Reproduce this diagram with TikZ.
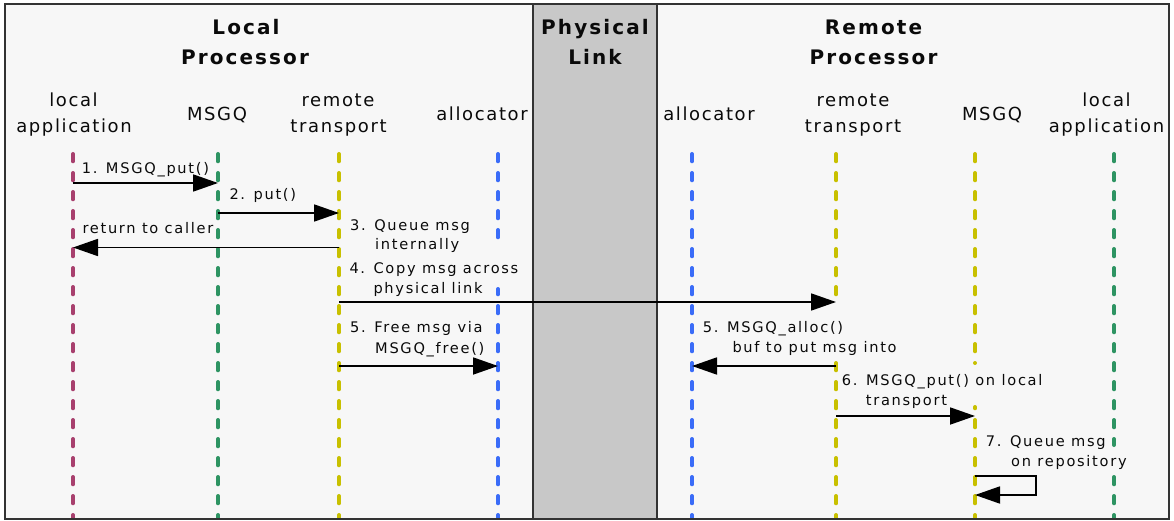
\documentclass[tikz,border=0pt]{standalone}
\usepackage{fontspec}
\setmainfont{DejaVu Sans}
\newfontfamily\hdrfont[LetterSpace=10.5]{DejaVu Sans}
\newfontfamily\namefont[LetterSpace=9]{DejaVu Sans}
\newfontfamily\lblfont[LetterSpace=11.7]{DejaVu Sans}
\usetikzlibrary{arrows.meta}
\definecolor{bgc}{HTML}{F7F7F7}
\definecolor{bandc}{HTML}{C8C8C8}
\definecolor{framec}{HTML}{333333}
\definecolor{txtc}{HTML}{0A0A0A}
\definecolor{lmag}{HTML}{A8406E}
\definecolor{lgreen}{HTML}{2E9463}
\definecolor{lyel}{HTML}{C8C000}
\definecolor{lblue}{HTML}{3A6CF8}
\tikzset{
  hdr/.style={anchor=base, inner sep=0pt, text=txtc, font=\hdrfont\bfseries\fontsize{20}{24}\selectfont},
  pname/.style={anchor=base, inner sep=0pt, text=txtc, font=\namefont\fontsize{18}{22}\selectfont},
  lbl/.style={anchor=base west, inner sep=0pt, text=txtc, font=\lblfont\fontsize{14.6}{18}\selectfont},
  life/.style={line width=4pt, line cap=round, dash pattern=on 7.3pt off 11.7pt},
  msg/.style={line width=1.8pt, draw=black, -{Triangle[length=25pt,width=17pt]}},
  region/.style={draw=framec, line width=1.5pt},
}
\begin{document}
\begin{tikzpicture}[x=1pt,y=-1pt]
\useasboundingbox (0,0) rectangle (1174,521);
% regions
\fill[bgc] (5,4) rectangle (533,519);
\fill[bandc] (533,4) rectangle (657,519);
\fill[bgc] (657,4) rectangle (1169,519);

% lifeline coordinates
\coordinate (aT) at (73,154);   \coordinate (aB) at (73,530);
\coordinate (bT) at (218,154);  \coordinate (bB) at (218,530);
\coordinate (cT) at (339,154);  \coordinate (cB) at (339,530);
\coordinate (dT) at (498,154);  \coordinate (dG1) at (498,244); \coordinate (dG2) at (498,289); \coordinate (dB) at (498,530);
\coordinate (eT) at (692,154);  \coordinate (eB) at (692,530);
\coordinate (fT) at (836,154);  \coordinate (fG1) at (836,303); \coordinate (fG2) at (836,363); \coordinate (fB) at (836,530);
\coordinate (gT) at (975,154);  \coordinate (gG1) at (975,363); \coordinate (gG2) at (975,407); \coordinate (gB) at (975,530);
\coordinate (hT) at (1114,154); \coordinate (hG1) at (1114,445); \coordinate (hG2) at (1114,477); \coordinate (hB) at (1114,530);

\begin{scope}
\clip (5.75,4.75) rectangle (1168.25,518.25);
\draw[life, lmag] (aT) -- (aB);
\draw[life, lgreen] (bT) -- (bB);
\draw[life, lyel] (cT) -- (cB);
\draw[life, lblue] (dT) -- (dG1);
\draw[life, lblue, dash phase=2pt] (dG2) -- (dB);
\draw[life, lblue] (eT) -- (eB);
\draw[life, lyel] (fT) -- (fG1);
\draw[life, lyel, dash phase=0pt] (fG2) -- (fB);
\draw[life, lyel] (gT) -- (gG1);
\draw[life, lyel, dash phase=6pt] (gG2) -- (gB);
\draw[life, lgreen] (hT) -- (hG1);
\draw[life, lgreen, dash phase=0pt] (hG2) -- (hB);
\end{scope}

% region outlines
\draw[region] (5,4) rectangle (533,519);
\draw[region] (533,4) rectangle (657,519);
\draw[region] (657,4) rectangle (1169,519);

% headers
\node[hdr] (hL1) at (246,34.3) {Local};
\node[hdr] (hL2) at (245,65) {Processor};
\node[hdr] (hP1) at (595,34.3) {Physical};
\node[hdr] (hP2) at (595,65) {Link};
\node[hdr] (hR1) at (873.5,34.3) {Remote};
\node[hdr] (hR2) at (873.5,65) {Processor};

% participant names
\node[pname] (nA1) at (73.5,106.7) {local};
\node[pname] (nA2) at (74,132.5) {application};
\node[pname] (nB) at (217,120.7) {MSGQ};
\node[pname] (nC1) at (338,106.7) {remote};
\node[pname] (nC2) at (338.5,132.5) {transport};
\node[pname] (nD) at (482,120.7) {allocator};
\node[pname] (nE) at (709,120.7) {allocator};
\node[pname] (nF1) at (853,106.7) {remote};
\node[pname] (nF2) at (853,132.5) {transport};
\node[pname] (nG) at (992,120.7) {MSGQ};
\node[pname] (nH1) at (1106.5,106.7) {local};
\node[pname] (nH2) at (1106.5,132.5) {application};

% message labels
\node[lbl] (l1) at (81.7,173.3) {1. MSGQ\_put()};
\node[lbl] (l2) at (229.3,200) {2. put()};
\node[lbl] (lr) at (82.3,233.3) {return to caller};
\node[lbl] (l3a) at (350,230) {3. Queue msg};
\node[lbl] (l3b) at (375,250) {internally};
\node[lbl] (l4a) at (349.3,273.3) {4. Copy msg across};
\node[lbl] (l4b) at (373.3,293.3) {physical link};
\node[lbl] (l5a) at (350,332) {5. Free msg via};
\node[lbl] (l5b) at (375,353) {MSGQ\_free()};
\node[lbl] (l5c) at (702.7,332.3) {5. MSGQ\_alloc()};
\node[lbl] (l5d) at (732.3,352.7) {buf to put msg into};
\node[lbl] (l6a) at (841.7,385) {6. MSGQ\_put() on local};
\node[lbl] (l6b) at (865.7,405) {transport};
\node[lbl] (l7a) at (985.7,446) {7. Queue msg};
\node[lbl] (l7b) at (1011,466) {on repository};

% message coordinates
\coordinate (m1s) at (73,183);    \coordinate (m1e) at (218,183);
\coordinate (m2s) at (218,213);   \coordinate (m2e) at (339,213);
\coordinate (m3s) at (339,247.5); \coordinate (m3e) at (73,247.5);
\coordinate (m4s) at (339,302);   \coordinate (m4e) at (836,302);
\coordinate (m5s) at (339,366);   \coordinate (m5e) at (498,366);
\coordinate (m5bs) at (836,366);  \coordinate (m5be) at (692,366);
\coordinate (m6s) at (836,416);   \coordinate (m6e) at (975,416);
\coordinate (m7s) at (975,476);   \coordinate (m7c) at (1036,476); \coordinate (m7e) at (975,495);

\draw[msg] (m1s) -- (m1e);
\draw[msg] (m2s) -- (m2e);
\draw[msg] (m3s) -- (m3e);
\draw[msg] (m4s) -- (m4e);
\draw[msg] (m5s) -- (m5e);
\draw[msg] (m5bs) -- (m5be);
\draw[msg] (m6s) -- (m6e);
\draw[msg] (m7s) -- (m7c) |- (m7e);
\end{tikzpicture}
\end{document}
